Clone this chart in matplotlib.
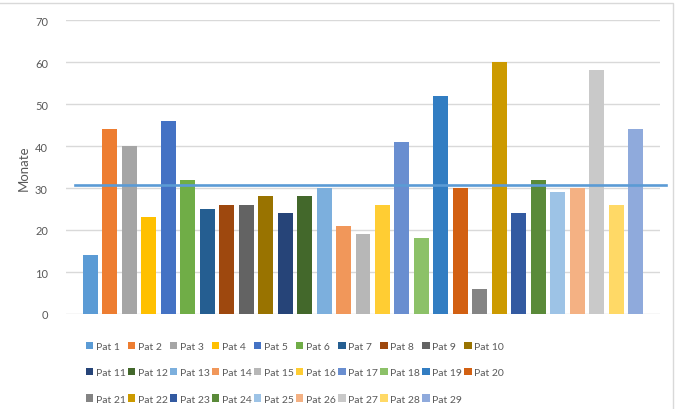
import matplotlib
matplotlib.use("Agg")
import matplotlib.pyplot as plt
from matplotlib.patches import Rectangle

# months per patient
patients = ["Pat %d" % i for i in range(1, 30)]
months = [14, 44, 40, 23, 46, 32, 25, 26, 26, 28,
          24, 28, 30, 21, 19, 26, 41, 18, 52, 30,
          6, 60, 24, 32, 29, 30, 58, 26, 44]
mean_line = 30.8

colors = ["#5B9BD5", "#ED7D31", "#A5A5A5", "#FFC000", "#4472C4", "#70AD47",
          "#255E91", "#9E480E", "#636363", "#997300", "#264478", "#43682B",
          "#7CAFDD", "#F1975A", "#B7B7B7", "#FFCD33", "#698ED0", "#8CC168",
          "#327DC2", "#D26012", "#848484", "#CC9A00", "#335AA1", "#5A8A39",
          "#9DC3E6", "#F4B183", "#C9C9C9", "#FFD966", "#8FAADC"]

txt = "#595959"
plt.rcParams['font.family'] = ['Lato', 'DejaVu Sans']

fig = plt.figure(figsize=(6.79, 4.10), dpi=100)
ax = fig.add_axes([66/679, 1-315/410, 594/679, 294/410])

bars = []
for i in range(len(months)):
    b = ax.bar(i, months[i], width=0.77, color=colors[i], label=patients[i], zorder=2)
    bars.append(b)

ax.plot([-0.8, 29.55], [mean_line, mean_line], color="#5B9BD5", lw=1.9,
        clip_on=False, zorder=3)

ax.set_xlim(-1.25, 29.25)
ax.set_ylim(0, 70)
ax.set_yticks(range(0, 71, 10))
ax.set_xticks([])
ax.grid(axis='y', color="#D9D9D9", lw=1, zorder=0)
for s in ax.spines.values():
    s.set_visible(False)
ax.tick_params(axis='y', length=0, pad=13, labelsize=8, labelcolor=txt)
ax.set_ylabel("Monate", fontsize=9.5, color=txt, labelpad=4)

# legend is filled column by column, so reorder to get rows of 10
order = []
for j in range(10):
    for r in range(3):
        k = j + 10 * r
        if k < len(months):
            order.append(k)
leg = ax.legend([bars[k] for k in order], [patients[k] for k in order],
                loc='upper left', bbox_to_anchor=(86/679, 1-343/410),
                bbox_transform=fig.transFigure, ncol=10, frameon=False,
                fontsize=7.5, handlelength=0.7, handleheight=0.7,
                handletextpad=0.25, columnspacing=0.22, labelspacing=1.62,
                borderpad=0, borderaxespad=0)
for t in leg.get_texts():
    t.set_color(txt)

fig.patches.append(Rectangle((-0.01, -0.01), 673/679 + 0.01, 1 - 4/410 + 0.01,
                             transform=fig.transFigure, fill=False,
                             edgecolor="#D9D9D9", lw=1))

fig.savefig("out.png", dpi=100)
